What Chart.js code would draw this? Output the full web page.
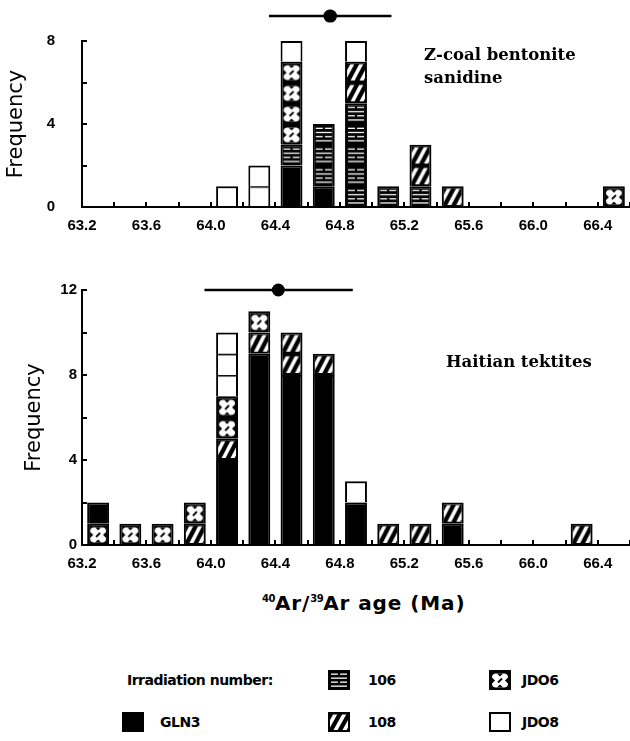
<!DOCTYPE html>
<html>
<head>
<meta charset="utf-8">
<script src="https://cdn.jsdelivr.net/npm/chart.js@4.4.1/dist/chart.umd.min.js"></script>
<style>
  body { margin: 0; background: #fff; width: 630px; height: 741px; position: relative; overflow: hidden; }
  canvas.chart { position: absolute; left: 0; }
  #topChart { top: 0; }
  #botChart { top: 250px; }
  .note { position: absolute; font-family: "DejaVu Serif"; font-weight: bold; font-size: 16.5px; line-height: 23px; color: #000; white-space: nowrap; }
  #xtitle { position: absolute; left: 262px; top: 591px; font-family: "DejaVu Sans"; font-weight: bold; font-size: 20px; letter-spacing: 0.9px; color: #000; white-space: nowrap; }
  #xtitle sup { font-size: 10px; vertical-align: 8px; letter-spacing: -0.5px; }
  .leg { position: absolute; font-family: "DejaVu Sans"; font-weight: bold; font-size: 14px; letter-spacing: -0.5px; color: #000; white-space: nowrap; line-height: 16px; }
  canvas.sw { position: absolute; }
</style>
</head>
<body>
<canvas id="topChart" class="chart" width="630" height="250"></canvas>
<canvas id="botChart" class="chart" width="630" height="340"></canvas>

<div class="note" style="left:424px; top:43px;">Z-coal bentonite<br>sanidine</div>
<div class="note" style="left:446px; top:350px;">Haitian tektites</div>
<div id="xtitle"><sup>40</sup>Ar/<sup>39</sup>Ar age (Ma)</div>

<div class="leg" style="left:127px; top:672px;">Irradiation number:</div>
<canvas class="sw" id="sw106" width="22" height="20" style="left:328px; top:670px;"></canvas>
<div class="leg" style="left:368px; top:672px;">106</div>
<canvas class="sw" id="swJDO6" width="22" height="20" style="left:489px; top:670px;"></canvas>
<div class="leg" style="left:522px; top:672px;">JDO6</div>
<canvas class="sw" id="swGLN3" width="22" height="20" style="left:122px; top:712px;"></canvas>
<div class="leg" style="left:160px; top:714px;">GLN3</div>
<canvas class="sw" id="sw108" width="22" height="20" style="left:328px; top:712px;"></canvas>
<div class="leg" style="left:368px; top:714px;">108</div>
<canvas class="sw" id="swJDO8" width="22" height="20" style="left:489px; top:712px;"></canvas>
<div class="leg" style="left:522px; top:714px;">JDO8</div>

<script>
// bin centres (Ma), 0.2 Ma wide
const bins = [63.3, 63.5, 63.7, 63.9, 64.1, 64.3, 64.5, 64.7, 64.9, 65.1, 65.3, 65.5, 65.7, 65.9, 66.1, 66.3, 66.5];
const xTickLabels = ['63.2', '63.6', '64.0', '64.4', '64.8', '65.2', '65.6', '66.0', '66.4'];
const topYLabels = ['0', '4', '8'];
const botYLabels = ['0', '4', '8', '12'];

// Z-coal bentonite sanidine
const topGLN3 = [0, 0, 0, 0, 0, 0, 2, 1, 0, 0, 0, 0, 0, 0, 0, 0, 0];
const top106  = [0, 0, 0, 0, 0, 0, 1, 3, 5, 1, 1, 0, 0, 0, 0, 0, 0];
const top108  = [0, 0, 0, 0, 0, 0, 0, 0, 2, 0, 2, 1, 0, 0, 0, 0, 0];
const topJDO6 = [0, 0, 0, 0, 0, 0, 4, 0, 0, 0, 0, 0, 0, 0, 0, 0, 1];
const topJDO8 = [0, 0, 0, 0, 1, 2, 1, 0, 1, 0, 0, 0, 0, 0, 0, 0, 0];
const topMean = 64.74, topErr = 0.38, topErrY = 9.2;

// Haitian tektites
const botGLN3 = [0, 0, 0, 0, 4, 9, 8, 8, 2, 0, 0, 1, 0, 0, 0, 0, 0];
const bot106  = [0, 0, 0, 0, 0, 0, 0, 0, 0, 0, 0, 0, 0, 0, 0, 0, 0];
const bot108  = [0, 0, 0, 1, 1, 1, 2, 1, 0, 1, 1, 1, 0, 0, 0, 1, 0];
const botJDO6 = [1, 1, 1, 1, 2, 1, 0, 0, 0, 0, 0, 0, 0, 0, 0, 0, 0];
const botJDO8 = [0, 0, 0, 0, 3, 0, 0, 0, 1, 0, 0, 0, 0, 0, 0, 0, 0];
// GLN3 grain that sits on top of the JDO6 one in the first bin
const botGLN3Upper = [1, 0, 0, 0, 0, 0, 0, 0, 0, 0, 0, 0, 0, 0, 0, 0, 0];
const botMean = 64.42, botErr = 0.46, botErrY = 12;

const barPct = 0.68;

// one tile = one grain (one unit of frequency)
function drawTile(ctx, kind, w, h) {
  if (kind === 'JDO8') {
    ctx.fillStyle = '#fff'; ctx.fillRect(0, 0, w, h);
    ctx.fillStyle = '#000'; ctx.fillRect(0, 0, w, 1.5);
    return;
  }
  ctx.fillStyle = '#000'; ctx.fillRect(0, 0, w, h);
  if (kind === 'GLN3') return;
  ctx.fillStyle = '#fff'; ctx.strokeStyle = '#fff';
  if (kind === '106') {
    const rows = [3.5, 7.5, 11.5, 15.5];
    rows.forEach((y, i) => {
      const yy = y * h / 20;
      if (i % 2) { ctx.fillRect(3, yy, w - 6, 1.3); }
      else { ctx.fillRect(3, yy, w * 0.45 - 3, 1.3); ctx.fillRect(w * 0.55, yy, w * 0.45 - 3, 1.3); }
    });
  } else if (kind === '108') {
    ctx.lineWidth = 3.6; ctx.lineCap = 'butt';
    ctx.save(); ctx.beginPath(); ctx.rect(2, 2.5, w - 4, h - 4.5); ctx.clip();
    [-2, 7, 16].forEach(x0 => {
      ctx.beginPath(); ctx.moveTo(x0, h - 1); ctx.lineTo(x0 + 10, 1); ctx.stroke();
    });
    ctx.restore();
  } else if (kind === 'JDO6') {
    const x0 = 3, y0 = 3.5, x1 = w - 3, y1 = h - 2.5;
    ctx.beginPath();
    ctx.roundRect(x0, y0, x1 - x0, y1 - y0, 4);
    ctx.fill();
    ctx.fillStyle = '#000';
    const mx = w / 2, my = (y0 + y1) / 2;
    ctx.beginPath(); ctx.moveTo(mx - 3, y0); ctx.lineTo(mx + 3, y0); ctx.lineTo(mx, y0 + 3); ctx.fill();
    ctx.beginPath(); ctx.moveTo(mx - 3, y1); ctx.lineTo(mx + 3, y1); ctx.lineTo(mx, y1 - 3); ctx.fill();
    ctx.beginPath(); ctx.moveTo(x0, my - 3); ctx.lineTo(x0, my + 3); ctx.lineTo(x0 + 3, my); ctx.fill();
    ctx.beginPath(); ctx.moveTo(x1, my - 3); ctx.lineTo(x1, my + 3); ctx.lineTo(x1 - 3, my); ctx.fill();
    ctx.strokeStyle = '#000'; ctx.lineWidth = 1.8;
    ctx.beginPath(); ctx.moveTo(mx - 2, my + 2); ctx.lineTo(mx + 2, my - 2); ctx.stroke();
  }
}

function makePattern(ctx, kind, bw, unit, left, base) {
  if (![bw, unit, left, base].every(Number.isFinite) || bw < 2 || unit < 2) return '#000';
  const tw = Math.max(4, Math.round(bw)), th = Math.max(4, Math.round(unit));
  const c = document.createElement('canvas');
  c.width = tw; c.height = th;
  drawTile(c.getContext('2d'), kind, tw, th);
  const p = ctx.createPattern(c, 'repeat');
  p.setTransform(new DOMMatrix([bw / tw, 0, 0, unit / th, left, base]));
  return p;
}

function fillFor(kind) {
  if (kind === 'GLN3') return '#000';
  return (c) => {
    const xs = c.chart.scales.x, ys = c.chart.scales.y;
    if (!xs || !ys || !c.raw) return '#000';
    const bw = (xs.getPixelForValue(bins[1]) - xs.getPixelForValue(bins[0])) * barPct;
    const left = xs.getPixelForValue(c.raw.x) - bw / 2;
    const base = ys.getPixelForValue(0);
    const unit = base - ys.getPixelForValue(1);
    return makePattern(c.chart.ctx, kind, bw, unit, left, base);
  };
}

function barSet(label, kind, values) {
  return {
    type: 'bar',
    label: label,
    data: bins.map((b, i) => ({ x: b, y: values[i] })).filter(p => p.y > 0),
    backgroundColor: fillFor(kind),
    borderColor: '#000',
    borderWidth: { top: 2, left: 2, right: 2, bottom: 0 },
    borderSkipped: false,
    barPercentage: barPct,
    categoryPercentage: 1,
    stack: 'bins'
  };
}

// mean +/- error above each histogram; the dot is a very short round-capped
// stroke so it still shows when it sits above the plot area
function errSets(mean, err, yLevel) {
  return [
    { type: 'line', label: 'range', data: [{ x: mean - err, y: yLevel }, { x: mean + err, y: yLevel }],
      borderColor: '#000', borderWidth: 2.5, pointRadius: 0, clip: false, stack: 'e1' },
    { type: 'line', label: 'mean', data: [{ x: mean - 0.002, y: yLevel }, { x: mean + 0.002, y: yLevel }],
      borderColor: '#000', borderWidth: 13, borderCapStyle: 'round', pointRadius: 0, clip: false, stack: 'e2' }
  ];
}

const tickFont = { family: 'Liberation Sans', weight: 'bold', size: 15 };

function makeChart(id, sets, yMax, yLabels, yPad, titlePad, padTop) {
  return new Chart(document.getElementById(id), {
    type: 'bar',
    data: { datasets: sets },
    options: {
      responsive: false,
      animation: false,
      devicePixelRatio: 1,
      events: [],
      layout: { padding: { top: padTop, right: 0, left: 0, bottom: 0 } },
      plugins: { legend: { display: false }, tooltip: { enabled: false } },
      scales: {
        x: {
          type: 'linear', min: 63.2, max: 66.6, stacked: true, offset: false,
          ticks: {
            stepSize: 0.2, autoSkip: false, maxRotation: 0, padding: 15, color: '#000', font: tickFont,
            callback: v => xTickLabels.includes(v.toFixed(1)) ? v.toFixed(1) : ''
          },
          grid: { drawOnChartArea: false, offset: false, tickLength: -5, color: '#000', lineWidth: 2 },
          border: { color: '#000', width: 2 },
          afterFit: s => {
            s.height = id === 'topChart' ? 43 : 45;
            s.paddingLeft = 0; s.paddingRight = 0;
          }
        },
        y: {
          min: 0, max: yMax, stacked: true,
          ticks: {
            stepSize: 2, padding: yPad, color: '#000', font: tickFont,
            callback: v => yLabels.includes(String(v)) ? String(v) : ''
          },
          grid: { drawOnChartArea: false, tickLength: -5, color: '#000', lineWidth: 2 },
          border: { color: '#000', width: 2 },
          title: { display: true, text: 'Frequency', color: '#000', font: { family: 'DejaVu Sans', size: 21 }, padding: { top: titlePad, bottom: 0 } },
          afterFit: s => { s.width = 82; }
        }
      }
    }
  });
}

// legend swatches
['106', 'JDO6', 'GLN3', '108', 'JDO8'].forEach(k => {
  const cv = document.getElementById('sw' + k);
  const g = cv.getContext('2d');
  drawTile(g, k, cv.width, cv.height);
  g.strokeStyle = '#000'; g.lineWidth = 2;
  g.strokeRect(1, 1, cv.width - 2, cv.height - 2);
});

makeChart('topChart', [
  barSet('GLN3', 'GLN3', topGLN3),
  barSet('106', '106', top106),
  barSet('108', '108', top108),
  barSet('JDO6', 'JDO6', topJDO6),
  barSet('JDO8', 'JDO8', topJDO8),
  ...errSets(topMean, topErr, topErrY)
], 8, topYLabels, 32, 4, 39);

makeChart('botChart', [
  barSet('GLN3', 'GLN3', botGLN3),
  barSet('106', '106', bot106),
  barSet('108', '108', bot108),
  barSet('JDO6', 'JDO6', botJDO6),
  barSet('GLN3', 'GLN3', botGLN3Upper),
  barSet('JDO8', 'JDO8', botJDO8),
  ...errSets(botMean, botErr, botErrY)
], 12, botYLabels, 10, 22, 40);
</script>
</body>
</html>
